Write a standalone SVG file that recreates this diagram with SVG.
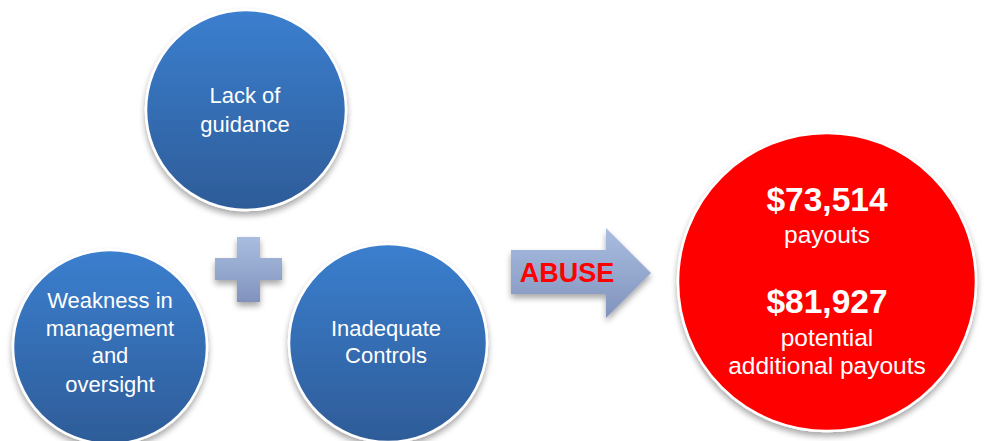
<svg xmlns="http://www.w3.org/2000/svg" width="985" height="441" viewBox="0 0 985 441">
  <defs>
    <linearGradient id="blueGrad" x1="0" y1="0" x2="0" y2="1">
      <stop offset="0" stop-color="#3b7fcf"/>
      <stop offset="1" stop-color="#2e5c98"/>
    </linearGradient>
    <linearGradient id="greyGrad" x1="0" y1="0" x2="0" y2="1">
      <stop offset="0" stop-color="#a9bde0"/>
      <stop offset="1" stop-color="#8193bd"/>
    </linearGradient>
    <filter id="shadow" x="-20%" y="-20%" width="140%" height="150%">
      <feGaussianBlur in="SourceAlpha" stdDeviation="3"/>
      <feOffset dx="0" dy="4" result="b"/>
      <feComponentTransfer><feFuncA type="linear" slope="0.35"/></feComponentTransfer>
      <feMerge><feMergeNode/><feMergeNode in="SourceGraphic"/></feMerge>
    </filter>
  </defs>
  <style>
    .blue { fill: url(#blueGrad); stroke: #ffffff; stroke-width: 2.5; filter: url(#shadow); }
    .red { fill: #ff0000; stroke: #ffffff; stroke-width: 2.5; filter: url(#shadow); }
    .grey { fill: url(#greyGrad); filter: url(#shadow); }
    .lbl { font-family: "Liberation Sans", Arial, sans-serif; font-size: 22px; fill: #ffffff; text-anchor: middle; }
    .big { font-family: "Liberation Sans", Arial, sans-serif; font-size: 33.5px; font-weight: bold; fill: #ffffff; text-anchor: middle; }
    .sub { font-family: "Liberation Sans", Arial, sans-serif; font-size: 24.5px; fill: #ffffff; text-anchor: middle; }
    .abuse { font-family: "Liberation Sans", Arial, sans-serif; font-size: 27px; font-weight: bold; fill: #ff0000; text-anchor: middle; }
  </style>
  <rect width="985" height="441" fill="#ffffff"/>

  <g id="node-guidance">
    <circle class="blue" cx="246" cy="110" r="100"/>
    <text class="lbl" x="245" y="103">Lack of</text>
    <text class="lbl" x="245" y="132">guidance</text>
  </g>

  <g id="node-weakness">
    <circle class="blue" cx="110" cy="347" r="97"/>
    <text class="lbl" x="110" y="308">Weakness in</text>
    <text class="lbl" x="110" y="336">management</text>
    <text class="lbl" x="110" y="363">and</text>
    <text class="lbl" x="110" y="392">oversight</text>
  </g>

  <g id="node-controls">
    <circle class="blue" cx="388" cy="343" r="99"/>
    <text class="lbl" x="386" y="336">Inadequate</text>
    <text class="lbl" x="386" y="363">Controls</text>
  </g>

  <g id="plus">
    <path class="grey" d="M237,237 H260 V258 H282 V280 H260 V302 H237 V280 H215 V258 H237 Z"/>
  </g>

  <g id="connectors">
    <g id="arrow-abuse">
      <path class="grey" d="M511,250 H606 V228 L651,273 L606,318 V294 H511 Z"/>
      <text class="abuse" x="567" y="282">ABUSE</text>
    </g>
  </g>

  <g id="node-result">
    <circle class="red" cx="827" cy="282" r="149"/>
    <text class="big" x="827" y="211">$73,514</text>
    <text class="sub" x="827" y="243">payouts</text>
    <text class="big" x="827" y="313">$81,927</text>
    <text class="sub" x="827" y="346">potential</text>
    <text class="sub" x="827" y="374">additional payouts</text>
  </g>
</svg>
